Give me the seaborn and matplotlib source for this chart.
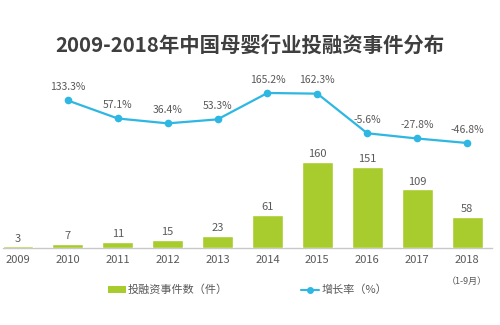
import matplotlib
matplotlib.use("Agg")
import matplotlib.pyplot as plt
import seaborn as sns
import numpy as np
import pandas as pd
from matplotlib.patches import Patch
from matplotlib.lines import Line2D

years = ["2009", "2010", "2011", "2012", "2013", "2014", "2015", "2016", "2017", "2018"]
events = [3, 7, 11, 15, 23, 61, 160, 151, 109, 58]
growth = [np.nan, 133.3, 57.1, 36.4, 53.3, 165.2, 162.3, -5.6, -27.8, -46.8]
growth_labels = ["", "133.3%", "57.1%", "36.4%", "53.3%", "165.2%", "162.3%", "-5.6%", "-27.8%", "-46.8%"]
title = "2009-2018年中国母婴行业投融资事件分布"
bar_legend = "投融资事件数（件）"
line_legend = "增长率（%）"
note_2018 = "（1-9月）"

sns.set_theme(style="white")
plt.rcParams['font.family'] = ['Noto Sans CJK SC', 'DejaVu Sans']

GREEN = "#a8cb2e"
CYAN = "#2db7e2"
TXT = "#595959"

df = pd.DataFrame({"year": years, "events": events, "growth": growth,
                   "pos": np.arange(len(years))})

fig = plt.figure(figsize=(5, 3.25), dpi=100)
fig.patch.set_facecolor("white")
ax = fig.add_axes([3/500, (325-248)/325, 489/500, (248-85)/325])

sns.barplot(data=df, x="year", y="events", color=GREEN, width=0.62,
            saturation=1, ax=ax, zorder=3)
ax.set_xlim(-0.3, 9.5)
ax.set_ylim(0, 303)
for i, v in enumerate(events):
    ax.annotate(str(v), (i, v), xytext=(0, 2), textcoords="offset points",
                ha="center", va="bottom", fontsize=8, color=TXT)

ax2 = ax.twinx()
sns.lineplot(data=df.dropna(), x="pos", y="growth", color=CYAN, linewidth=1.6,
             marker="o", markersize=5.5, markeredgewidth=0, ax=ax2)
ax2.set_ylim(-492, 199)
ax2.set_xlim(-0.3, 9.5)
for i, (v, lab) in enumerate(zip(growth, growth_labels)):
    if lab:
        ax2.annotate(lab, (i, v), xytext=(0, 6), textcoords="offset points",
                     ha="center", va="bottom", fontsize=7.5, color=TXT)

for a in (ax, ax2):
    for s in ("top", "left", "right"):
        a.spines[s].set_visible(False)
    a.set_yticks([])
    a.set_ylabel("")
    a.set_xlabel("")
ax2.spines["bottom"].set_visible(False)
ax.spines["bottom"].set_color("#c8c8c8")
ax.spines["bottom"].set_linewidth(1.0)
ax.spines["bottom"].set_zorder(1)
ax.tick_params(axis="x", length=0, pad=5, labelsize=8, labelcolor=TXT)
ax2.tick_params(axis="x", length=0, labelbottom=False)

ax.annotate(note_2018, (9, 0), xytext=(0, -21), textcoords="offset points",
            ha="center", va="top", fontsize=6.5, color=TXT)

fig.text(0.5, 1 - 45/325, title, ha="center", va="center", fontsize=14.7,
         fontweight="bold", color="#3f3f3f")

handles = [Patch(facecolor=GREEN, edgecolor="none"),
           Line2D([], [], color=CYAN, marker="o", markersize=4, linewidth=1.5)]
fig.legend(handles, [bar_legend, line_legend], loc="center",
           bbox_to_anchor=(0.495, 1 - 290/325), ncol=2, frameon=False,
           fontsize=8, labelcolor=TXT, handlelength=1.6, handleheight=0.6,
           handletextpad=0.2, columnspacing=6.6)

fig.savefig("out.png", dpi=100, facecolor="white")
